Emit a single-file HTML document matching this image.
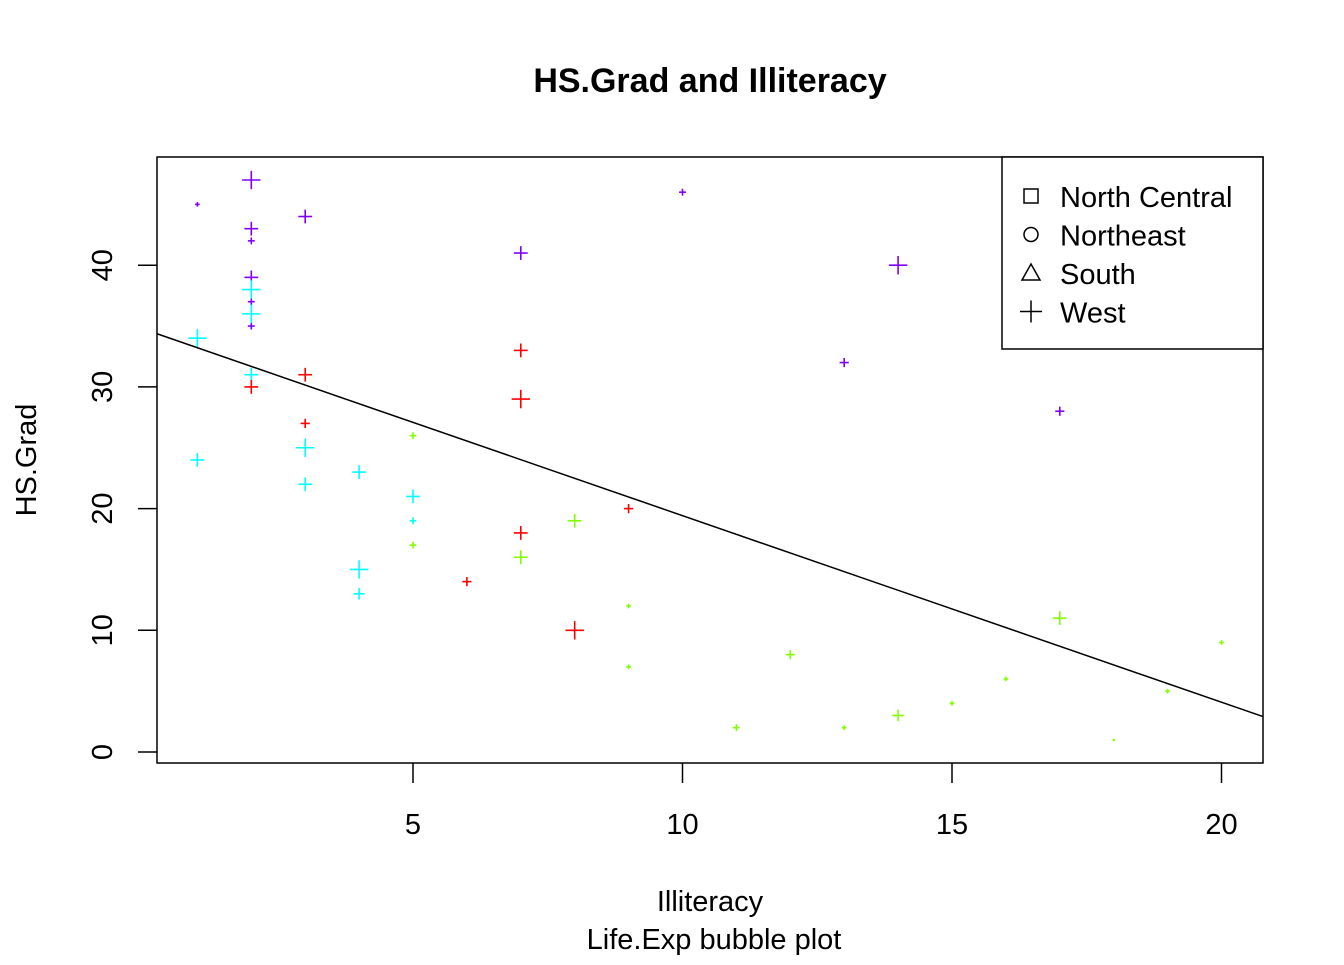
<!DOCTYPE html>
<html><head><meta charset="utf-8"><style>
body{margin:0;background:#fff}
svg text{font-family:"Liberation Sans",Arial,sans-serif}
</style></head><body>
<svg id="chart" width="1344" height="960">
</svg>
<script>
const xs=[1,2,2,2,2,2,2,3,7,10,14,13,17, 1,1,2,2,2,3,3,4,4,4,5,5, 2,3,3,7,7,7,6,8,9, 5,5,7,8,9,9,11,12,13,14,15,16,17,18,19,20];
const ys=[45,47,43,42,39,37,35,44,41,46,40,32,28, 34,24,38,36,31,25,22,23,15,13,21,19, 30,31,27,33,29,18,14,10,20, 26,17,16,19,12,7,2,8,2,3,4,6,11,1,5,9];
const groups=[0,0,0,0,0,0,0,0,0,0,0,0,0, 1,1,1,1,1,1,1,1,1,1,1,1, 2,2,2,2,2,2,2,2,2, 3,3,3,3,3,3,3,3,3,3,3,3,3,3,3,3];
const bubble=[1,4,3,1.5,3,1.5,1.5,3,3,1.5,4,2,2, 4,3,4,4,3,4,3,3,4,2.5,3,1.5, 3,3,2,3,4,3,2,4,2, 1.5,1.5,3,3,1,1,1.5,2,1,2.5,1,1,3,0.5,1,1];
const palette=["#8000FF","#00FFFF","#FF0000","#80FF00"];
const xTicks=[5,10,15,20], yTicks=[0,10,20,30,40];
const legendLabels=["North Central","Northeast","South","West"];
const fitIntercept=34.75, fitSlope=-1.533;
const X=v=>143.5+v*53.9, Y=v=>752-v*12.17;
const svg=document.getElementById('chart');const NS="http://www.w3.org/2000/svg";
function el(t,a,txt){const e=document.createElementNS(NS,t);for(const k in a)e.setAttribute(k,a[k]);if(txt!==undefined)e.textContent=txt;svg.appendChild(e);return e;}
let e=el('text',{x:710,y:92,'text-anchor':'middle','font-size':34,'font-weight':'bold'},'HS.Grad and Illiteracy');

e=el('rect',{x:157,y:157,width:1106,height:606,fill:'none',stroke:'#000','stroke-width':1.5});

xTicks.forEach(t=>{el('line',{x1:X(t),x2:X(t),y1:763,y2:783,stroke:'#000','stroke-width':1.5});
 e=el('text',{x:X(t),y:834,'text-anchor':'middle','font-size':29},t);
 });
yTicks.forEach(t=>{el('line',{x1:138,x2:157,y1:Y(t),y2:Y(t),stroke:'#000','stroke-width':1.5});
 e=el('text',{x:112,y:Y(t),'text-anchor':'middle','font-size':29,transform:`rotate(-90 112 ${Y(t)})`},t);
 });
e=el('text',{x:710,y:911,'text-anchor':'middle','font-size':29},'Illiteracy');

e=el('text',{x:714,y:949,'text-anchor':'middle','font-size':29},'Life.Exp bubble plot');

e=el('text',{x:36,y:460,'text-anchor':'middle','font-size':29,transform:'rotate(-90 36 460)'},'HS.Grad');

xs.forEach((v,i)=>{const cx=X(v),cy=Y(ys[i]),r=bubble[i]*2.3;
 const g=document.createElementNS(NS,'g');
 
 
 g.innerHTML=`<line x1="${cx-r}" x2="${cx+r}" y1="${cy}" y2="${cy}" stroke="${palette[groups[i]]}" stroke-width="1.6"/><line x1="${cx}" x2="${cx}" y1="${cy-r}" y2="${cy+r}" stroke="${palette[groups[i]]}" stroke-width="1.6"/>`;
 svg.appendChild(g);});
const x0=(157-143.5)/53.9,x1=(1263-143.5)/53.9;
e=el('line',{x1:157,x2:1263,y1:Y(fitIntercept+fitSlope*x0),y2:Y(fitIntercept+fitSlope*x1),stroke:'#000','stroke-width':1.5});

e=el('rect',{x:1002,y:157,width:261,height:192,fill:'#fff',stroke:'#000','stroke-width':1.5});

const shapes=['<rect x="-7" y="-7" width="14" height="14" fill="none" stroke="#000" stroke-width="1.5"/>','<circle r="7" fill="none" stroke="#000" stroke-width="1.5"/>','<polygon points="0,-9 9,7 -9,7" fill="none" stroke="#000" stroke-width="1.5"/>','<path d="M-11 0H11M0 -11V11" stroke="#000" stroke-width="1.5"/>'];
legendLabels.forEach((l,i)=>{const y=197+i*38.5;
 const g=document.createElementNS(NS,'g');g.setAttribute('transform',`translate(1031 ${y-1})`);g.innerHTML=shapes[i];svg.appendChild(g);
 e=el('text',{x:1060,y:y+10,'font-size':29},l);
 });
</script>
</body></html>
